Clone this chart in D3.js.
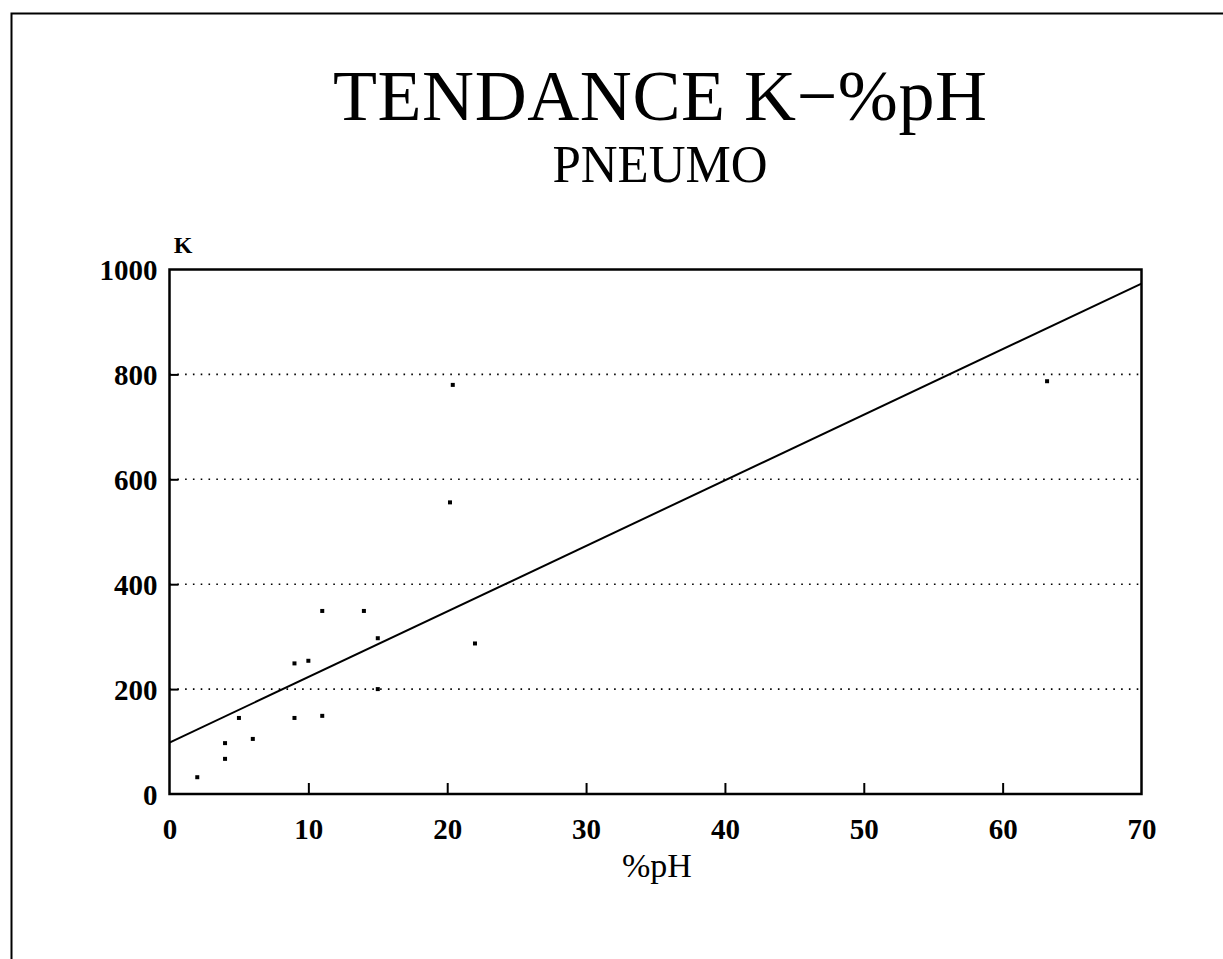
<!DOCTYPE html>
<html>
<head>
<meta charset="utf-8"/>
<title>Tendance K-%pH</title>
<script src="https://cdn.jsdelivr.net/npm/d3@7"></script>
<style>
	body { margin: 0; background: #fff; }
	svg text { font-family: "Liberation Serif", "DejaVu Serif", serif; fill: #000; }
</style>
</head>
<body>
<div id="chart"></div>
<script>
// values
var phValues = [2, 4, 4, 5, 6, 9, 9, 10, 11, 11, 14, 15, 15, 20.4, 20.2, 22, 63.2];
var kValues  = [32, 97, 67, 145, 105, 249, 145, 254, 149, 349, 349, 297, 200, 780, 556, 287, 787];
var trendIntercept = 98;
var trendSlope = 12.5;
var xTicks = [0, 10, 20, 30, 40, 50, 60, 70];
var yTicks = [0, 200, 400, 600, 800, 1000];
var gridTicks = [200, 400, 600, 800];

var W = 1223, H = 959;
var plotL = 169.5, plotR = 1141.5, plotT = 269.5, plotB = 794;

var svg = d3.select("#chart").append("svg")
	.attr("width", W).attr("height", H);

// outer frame (only top and left edges show)
svg.append("path")
	.attr("d", "M11.5," + H + "V13.5H" + W)
	.attr("fill", "none").attr("stroke", "#000").attr("stroke-width", 2);

var x = d3.scaleLinear().domain([0, 70]).range([plotL, plotR]);
var y = d3.scaleLinear().domain([0, 1000]).range([plotB, plotT]);

// titles
svg.append("text").attr("x", 660).attr("y", 120)
	.attr("text-anchor", "middle").attr("font-size", 72)
	.attr("textLength", 654).attr("lengthAdjust", "spacing")
	.text("TENDANCE K\u2212%pH");
svg.append("text").attr("x", 660).attr("y", 182)
	.attr("text-anchor", "middle").attr("font-size", 52)
	.attr("textLength", 215).attr("lengthAdjust", "spacingAndGlyphs")
	.text("PNEUMO");

// dotted grid
svg.append("g").selectAll("line").data(gridTicks).join("line")
	.attr("x1", x(0)).attr("x2", x(70))
	.attr("y1", function(d) { return y(d); }).attr("y2", function(d) { return y(d); })
	.attr("stroke", "#000").attr("stroke-width", 1.6)
	.attr("stroke-dasharray", "1.6,6.2");

// axes via d3
var xAxis = svg.append("g").attr("transform", "translate(0," + plotB + ")")
	.call(d3.axisBottom(x).tickValues(xTicks).tickSize(-11).tickPadding(24).tickFormat(d3.format("d")));
var yAxis = svg.append("g").attr("transform", "translate(" + plotL + ",0)")
	.call(d3.axisLeft(y).tickValues(yTicks).tickSize(-9).tickPadding(12).tickFormat(d3.format("d")));

[xAxis, yAxis].forEach(function(g) {
	g.select(".domain").remove();
	g.selectAll("line").attr("stroke", "#000").attr("stroke-width", 2);
	g.selectAll("text").attr("font-family", "Liberation Serif")
		.attr("font-weight", "bold").attr("font-size", 29).attr("fill", "#000");
});
xAxis.selectAll(".tick").filter(function(d) { return d === 0 || d === 70; }).select("line").remove();
yAxis.selectAll(".tick").filter(function(d) { return d === 0 || d === 1000; }).select("line").remove();
yAxis.selectAll("text").attr("dy", "0.35em");

// plot box
svg.append("rect")
	.attr("x", x(0)).attr("y", y(1000))
	.attr("width", x(70) - x(0)).attr("height", y(0) - y(1000))
	.attr("fill", "none").attr("stroke", "#000").attr("stroke-width", 2.5);

// axis labels
svg.append("text").attr("x", 183).attr("y", 253)
	.attr("text-anchor", "middle").attr("font-weight", "bold").attr("font-size", 24)
	.text("K");
svg.append("text").attr("x", 657).attr("y", 877)
	.attr("text-anchor", "middle").attr("font-size", 34)
	.text("%pH");

// regression line
svg.append("line")
	.attr("x1", x(0)).attr("y1", y(trendIntercept))
	.attr("x2", x(70)).attr("y2", y(trendIntercept + trendSlope * 70))
	.attr("stroke", "#000").attr("stroke-width", 2);

// points
var pts = phValues.map(function(p, i) { return [p, kValues[i]]; });
svg.append("g").selectAll("rect").data(pts).join("rect")
	.attr("x", function(d) { return x(d[0]) - 2; })
	.attr("y", function(d) { return y(d[1]) - 2; })
	.attr("width", 4).attr("height", 4)
	.attr("fill", "#000");
</script>
</body>
</html>
